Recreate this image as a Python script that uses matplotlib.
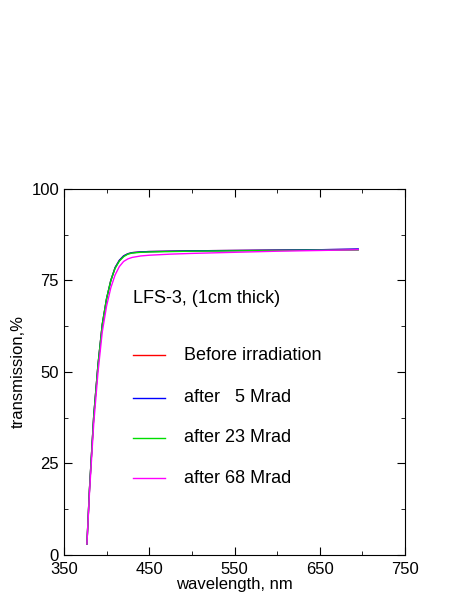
import matplotlib
matplotlib.use("Agg")
import matplotlib.pyplot as plt
from matplotlib.ticker import MultipleLocator

plt.rcParams["font.family"] = ["Liberation Sans", "DejaVu Sans"]

wl = [377, 380, 385, 390, 395, 400, 405, 410, 415, 420, 425, 430, 440, 450, 475, 500, 550, 600, 650, 695]
before = [3, 18, 38, 52, 63, 70, 75, 78.5, 80.5, 81.7, 82.3, 82.6, 82.8, 82.9, 83.0, 83.1, 83.2, 83.3, 83.4, 83.5]
mrad5 = [3, 18, 38, 52, 63, 70, 75, 78.5, 80.5, 81.7, 82.3, 82.6, 82.8, 82.9, 83.0, 83.1, 83.2, 83.3, 83.4, 83.6]
mrad23 = [3, 18, 38, 52, 63, 70, 75, 78.3, 80.3, 81.5, 82.2, 82.5, 82.7, 82.8, 82.9, 83.0, 83.1, 83.2, 83.3, 83.3]
mrad68 = [3, 17, 36, 50, 61, 68, 73, 76.5, 78.8, 80.2, 80.9, 81.3, 81.7, 81.9, 82.2, 82.4, 82.7, 83.0, 83.2, 83.4]

series = [("Before irradiation", before, "#ff0000"),
          ("after   5 Mrad", mrad5, "#0000ff"),
          ("after 23 Mrad", mrad23, "#00dd00"),
          ("after 68 Mrad", mrad68, "#ff00ff")]
legend_y = [54.6, 42.9, 32.0, 21.0]

fig = plt.figure(figsize=(4.63, 5.99), dpi=100)
ax = fig.add_axes([0.138, 0.0735, 0.737, 0.611])
for label, vals, color in series:
    ax.plot(wl, vals, color=color, linewidth=1)

ax.text(431, 70.2, "LFS-3, (1cm thick)", fontsize=13, va="center")
for (label, vals, color), y in zip(series, legend_y):
    ax.plot([431, 468], [y, y], color=color, linewidth=1)
    ax.text(491, y, label, fontsize=13, va="center")

ax.set_xlim(350, 750)
ax.set_ylim(0, 100)
ax.set_xticks([350, 450, 550, 650, 750])
ax.set_yticks([0, 25, 50, 75, 100])
ax.xaxis.set_minor_locator(MultipleLocator(50))
ax.yaxis.set_minor_locator(MultipleLocator(12.5))
ax.tick_params(which="both", direction="in", top=True, right=True, labelsize=12)
ax.tick_params(which="major", length=6)
ax.tick_params(which="minor", length=3)
ax.tick_params(axis="x", pad=5)
ax.set_xlabel("wavelength, nm", fontsize=12, labelpad=0)
ax.set_ylabel("transmission,%", fontsize=12)

fig.savefig("out.png", dpi=100)
